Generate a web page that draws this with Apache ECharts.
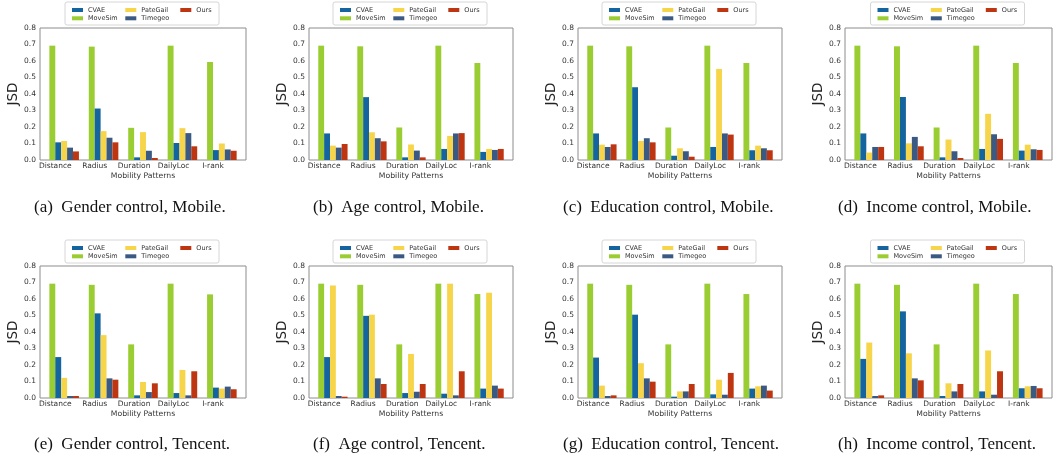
<!DOCTYPE html>
<html>
<head>
<meta charset="utf-8">
<script src="https://cdn.jsdelivr.net/npm/echarts@6/dist/echarts.min.js"></script>
<style>
  html, body { margin: 0; padding: 0; background: #fff; }
  #chart { width: 1064px; height: 458px; }
</style>
</head>
<body>
<div id="chart"></div>
<script>
const categories = ['Distance', 'Radius', 'Duration', 'DailyLoc', 'I-rank']
// bar order inside each group
const methods = ['MoveSim', 'CVAE', 'PateGail', 'Timegeo', 'Ours']
const yMax = 0.8
const yStep = 0.1

// rows follow methods: MoveSim, CVAE, PateGail, Timegeo, Ours
const mobileGender = [
  [0.693, 0.687, 0.195, 0.693, 0.594],
  [0.107, 0.312, 0.016, 0.103, 0.060],
  [0.115, 0.175, 0.169, 0.193, 0.100],
  [0.075, 0.135, 0.056, 0.163, 0.064],
  [0.052, 0.107, 0.012, 0.083, 0.056]
]
const mobileAge = [
  [0.693, 0.689, 0.197, 0.693, 0.588],
  [0.161, 0.381, 0.016, 0.067, 0.049],
  [0.087, 0.168, 0.094, 0.146, 0.067],
  [0.075, 0.132, 0.057, 0.161, 0.061],
  [0.097, 0.113, 0.016, 0.163, 0.067]
]
const mobileEducation = [
  [0.693, 0.689, 0.197, 0.693, 0.588],
  [0.161, 0.441, 0.026, 0.079, 0.059],
  [0.093, 0.115, 0.071, 0.552, 0.087],
  [0.079, 0.132, 0.053, 0.161, 0.071],
  [0.095, 0.107, 0.020, 0.154, 0.059]
]
const mobileIncome = [
  [0.693, 0.689, 0.197, 0.693, 0.588],
  [0.161, 0.382, 0.016, 0.067, 0.057],
  [0.045, 0.101, 0.124, 0.280, 0.093],
  [0.079, 0.140, 0.053, 0.156, 0.065],
  [0.079, 0.083, 0.012, 0.128, 0.061]
]
const tencentGender = [
  [0.693, 0.686, 0.325, 0.693, 0.628],
  [0.248, 0.513, 0.016, 0.030, 0.063],
  [0.122, 0.381, 0.097, 0.170, 0.057],
  [0.012, 0.119, 0.036, 0.016, 0.069],
  [0.012, 0.111, 0.089, 0.162, 0.053]
]
const tencentAge = [
  [0.693, 0.686, 0.325, 0.693, 0.630],
  [0.248, 0.498, 0.030, 0.026, 0.057],
  [0.682, 0.505, 0.267, 0.693, 0.638],
  [0.012, 0.119, 0.038, 0.016, 0.075],
  [0.008, 0.085, 0.085, 0.162, 0.057]
]
const tencentEducation = [
  [0.693, 0.686, 0.325, 0.693, 0.630],
  [0.245, 0.505, 0.008, 0.022, 0.057],
  [0.075, 0.211, 0.040, 0.111, 0.071],
  [0.012, 0.119, 0.040, 0.020, 0.075],
  [0.016, 0.099, 0.085, 0.152, 0.045]
]
const tencentIncome = [
  [0.693, 0.686, 0.325, 0.693, 0.630],
  [0.237, 0.525, 0.012, 0.040, 0.059],
  [0.336, 0.271, 0.089, 0.288, 0.071],
  [0.012, 0.119, 0.040, 0.020, 0.073],
  [0.016, 0.107, 0.085, 0.162, 0.059]
]

const captions = [
  '(a)  Gender control, Mobile.',
  '(b)  Age control, Mobile.',
  '(c)  Education control, Mobile.',
  '(d)  Income control, Mobile.',
  '(e)  Gender control, Tencent.',
  '(f)  Age control, Tencent.',
  '(g)  Education control, Tencent.',
  '(h)  Income control, Tencent.'
]
const panelData = [mobileGender, mobileAge, mobileEducation, mobileIncome,
  tencentGender, tencentAge, tencentEducation, tencentIncome]

const colors = {
  MoveSim: '#9acd32',
  CVAE: '#14649f',
  PateGail: '#f7d54a',
  Timegeo: '#3b5a83',
  Ours: '#be3511'
}

// layout of the plot frames (px)
const frameLeft = [40, 309, 578, 845]
const frameRight = [246, 513, 782, 1052]
const rowTop = [28, 266]
const plotHeight = 132
const captionX = [34, 313, 563, 838]
const captionY = [208, 445]

// matplotlib-like legend: 3 columns, filled column by column
const legendItems = [
  { name: 'CVAE', col: 0, row: 0 },
  { name: 'MoveSim', col: 0, row: 1 },
  { name: 'PateGail', col: 1, row: 0 },
  { name: 'Timegeo', col: 1, row: 1 },
  { name: 'Ours', col: 2, row: 0 }
]
const legendColX = [-71, -17.7, 37.3]

const font = 'DejaVu Sans'
const option = {
  animation: false,
  backgroundColor: '#fff',
  grid: [],
  xAxis: [],
  yAxis: [],
  series: [],
  legend: [],
  graphic: []
}

panelData.forEach((data, k) => {
  const col = k % 4
  const row = Math.floor(k / 4)
  const left = frameLeft[col]
  const width = frameRight[col] - left
  const top = rowTop[row]
  const center = left + width / 2
  // x range in matplotlib units: bars of 0.15 from i-0.15 to i+0.6, with 5% margins
  const unit = width / 5.225
  const g = option.grid.length

  // frame grid: border + y axis
  option.grid.push({
    left: left, top: top, width: width, height: plotHeight,
    show: true, borderColor: '#8c8c8c', borderWidth: 1,
    outerBoundsMode: 'none'
  })
  option.xAxis.push({ gridIndex: g, type: 'value', show: false })
  option.yAxis.push({
    gridIndex: g,
    type: 'value',
    min: 0,
    max: yMax,
    interval: yStep,
    axisLine: { show: false },
    axisTick: { show: false },
    splitLine: { show: false },
    axisLabel: {
      margin: 4,
      fontSize: 7.5,
      fontFamily: font,
      color: '#333',
      formatter: v => v.toFixed(1)
    },
    name: 'JSD',
    nameLocation: 'middle',
    nameGap: 20,
    nameTextStyle: { fontSize: 13.5, fontFamily: font, color: '#222' }
  })

  // bar grid: category bands matching the bar groups
  option.grid.push({
    left: left + 0.1125 * unit, top: top, width: 5 * unit, height: plotHeight,
    outerBoundsMode: 'none'
  })
  option.xAxis.push({
    gridIndex: g + 1,
    type: 'category',
    data: categories,
    axisLine: { show: false },
    axisTick: { show: false },
    axisLabel: {
      interval: 0,
      margin: 2,
      fontSize: 7.5,
      fontFamily: font,
      color: '#333',
      padding: [0, 0.45 * unit, 0, 0]
    },
    name: 'Mobility Patterns',
    nameLocation: 'middle',
    nameGap: 12,
    nameTextStyle: { fontSize: 7.7, fontFamily: font, color: '#333' }
  })
  option.yAxis.push({ gridIndex: g + 1, type: 'value', min: 0, max: yMax, show: false })

  methods.forEach((m, i) => {
    option.series.push({
      type: 'bar',
      name: m,
      xAxisIndex: g + 1,
      yAxisIndex: g + 1,
      data: data[i],
      barWidth: 0.15 * unit,
      barGap: '0%',
      itemStyle: { color: colors[m] }
    })
  })

  // legend frame + items
  option.graphic.push({
    type: 'rect',
    z: 0,
    shape: { x: center - 78, y: top - 26, width: 154, height: 23, r: 2 },
    style: { fill: '#fff', stroke: '#d6d6d6', lineWidth: 1 }
  })
  legendItems.forEach(it => {
    const rowCenter = top - 18 + it.row * 8.3
    option.legend.push({
      data: [it.name],
      left: center + legendColX[it.col],
      top: rowCenter - 4,
      padding: 0,
      icon: 'rect',
      itemWidth: 11,
      itemHeight: 4,
      selectedMode: false,
      textStyle: { fontSize: 6.5, lineHeight: 8, fontFamily: font, color: '#333' }
    })
  })

  option.graphic.push({
    type: 'text',
    x: captionX[col],
    y: captionY[row],
    style: {
      text: captions[k],
      font: '17px "Liberation Serif"',
      fill: '#111',
      align: 'left',
      verticalAlign: 'middle'
    }
  })
})

const chart = echarts.init(document.getElementById('chart'), null, { renderer: 'canvas' })
chart.setOption(option)
</script>
</body>
</html>
